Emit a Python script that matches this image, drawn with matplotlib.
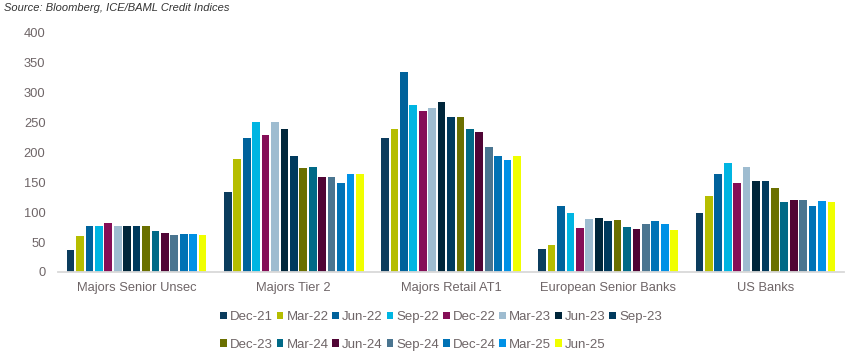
import matplotlib
matplotlib.use("Agg")
import matplotlib.pyplot as plt
import numpy as np
from matplotlib.patches import Patch

plt.rcParams['font.family'] = ['Liberation Sans', 'DejaVu Sans']

categories = ["Majors Senior Unsec", "Majors Tier 2", "Majors Retail AT1",
              "European Senior Banks", "US Banks"]
periods = ["Dec-21", "Mar-22", "Jun-22", "Sep-22", "Dec-22", "Mar-23", "Jun-23",
           "Sep-23", "Dec-23", "Mar-24", "Jun-24", "Sep-24", "Dec-24", "Mar-25", "Jun-25"]

# values per period, across the five categories
majors_senior = [37, 61, 77, 77, 82, 77, 77, 77, 77, 69, 66, 62, 64, 64, 62]
majors_tier2 = [134, 189, 224, 250, 229, 250, 239, 194, 174, 175, 159, 159, 149, 164, 164]
majors_at1 = [224, 239, 334, 279, 269, 274, 284, 259, 259, 239, 234, 209, 194, 187, 194]
euro_senior = [39, 45, 110, 99, 74, 89, 90, 85, 87, 75, 72, 80, 85, 80, 70]
us_banks = [99, 127, 164, 182, 149, 175, 152, 152, 140, 117, 120, 120, 110, 119, 117]

colors = ["#0B3C5D", "#B5BD00", "#00629B", "#00B5E2", "#850E57", "#9EBCD0", "#00263A",
          "#003A5D", "#6B7000", "#006A87", "#500535", "#4A7590", "#0072B5", "#0091E6", "#F0FF00"]

data = np.array([majors_senior, majors_tier2, majors_at1, euro_senior, us_banks])

fig = plt.figure(figsize=(8.55, 3.58), dpi=100)
ax = fig.add_axes([58/855, 1-272/358, (844-58)/855, (272-32.7)/358])

n = len(periods)
x = np.arange(len(categories))
slot = 0.9 / n
bw = slot * 0.82
for i in range(n):
    ax.bar(x + (i - (n-1)/2) * slot, data[:, i], width=bw, color=colors[i], label=periods[i])

ax.set_xlim(-0.5, len(categories) - 0.5)
ax.set_ylim(0, 400)
ax.set_yticks(np.arange(0, 401, 50))
txtc = "#6E6567"
ax.tick_params(axis='y', length=0, pad=9, labelsize=9.3, labelcolor=txtc)
ax.set_xticks(x)
ax.set_xticklabels(categories)
ax.tick_params(axis='x', length=0, pad=7, labelsize=9.3, labelcolor=txtc)
for s in ['left', 'right', 'top']:
    ax.spines[s].set_visible(False)
ax.spines['bottom'].set_color('#D9D9D9')
ax.spines['bottom'].set_linewidth(1.3)

handles = [Patch(facecolor=colors[i], label=periods[i]) for i in range(n)]
order = []
for k in range(8):
    order.append(k)
    if k + 8 < n:
        order.append(k + 8)
leg = fig.legend([handles[i] for i in order], [periods[i] for i in order],
                 ncol=8, loc='center', bbox_to_anchor=(441/855, 1-331/358),
                 frameon=False, fontsize=9.5, handlelength=0.5, handleheight=0.5,
                 handletextpad=0.25, columnspacing=0.28, labelspacing=1.15)
for t in leg.get_texts():
    t.set_color(txtc)

fig.text(4/855, 1-8/358, "Source: Bloomberg, ICE/BAML Credit Indices", fontsize=8,
         style='italic', color='#333333', va='center', ha='left')

fig.savefig("out.png", dpi=100)
